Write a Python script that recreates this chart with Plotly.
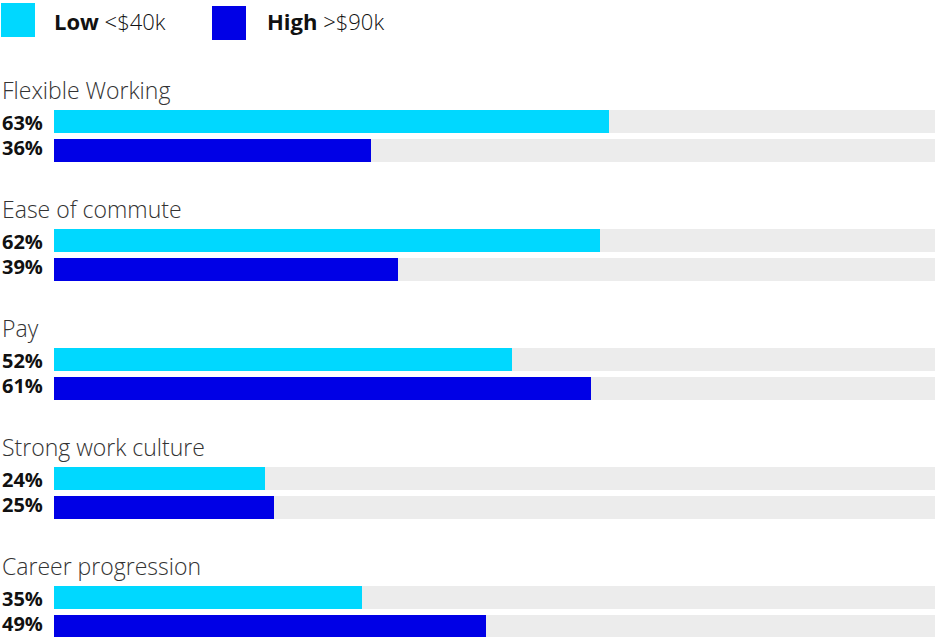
import plotly.graph_objects as go

categories = ["Flexible Working", "Ease of commute", "Pay", "Strong work culture", "Career progression"]
low = [63, 62, 52, 24, 35]
high = [36, 39, 61, 25, 49]
track = [100, 100, 100, 100, 100]
legend_bold = ["Low", "High"]
legend_rest = ["&lt;$40k", "&gt;$90k"]

CYAN = "#00d8ff"
BLUE = "#0000e6"
TRACK = "#ececec"
W, H = 935, 637
LEFT = 54

group_pitch = 119
first = 121.5
offset = 29
bar_h = 23.5
y_low = [first + i * group_pitch for i in range(len(categories))]
y_high = [y + offset for y in y_low]
y_title = [y - 31.5 for y in y_low]

xmin = -LEFT / (W - LEFT) * 100

fig = go.Figure()
for ys in (y_low, y_high):
    fig.add_trace(go.Bar(y=ys, x=track, orientation="h", width=bar_h,
                         marker=dict(color=TRACK, line=dict(width=0)),
                         hoverinfo="skip", showlegend=False))
fig.add_trace(go.Bar(y=y_low, x=low, orientation="h", width=bar_h, name="Low <$40k",
                     marker=dict(color=CYAN, line=dict(width=0)), showlegend=False))
fig.add_trace(go.Bar(y=y_high, x=high, orientation="h", width=bar_h, name="High >$90k",
                     marker=dict(color=BLUE, line=dict(width=0)), showlegend=False))

ann = []
label_font = dict(family="Open Sans", size=20, color="#111111", weight=700)
title_font = dict(family="Open Sans", size=23, color="#333333", weight=300)
for i, c in enumerate(categories):
    ann.append(dict(text=c, xref="paper", x=0, xanchor="left", yref="y", y=y_title[i],
                    yanchor="middle", showarrow=False, font=title_font))
    ann.append(dict(text=f"{low[i]}%", xref="paper", x=0, xanchor="left", yref="y", y=y_low[i],
                    yanchor="middle", showarrow=False, font=label_font,
                    valign="middle", yshift=-1))
    ann.append(dict(text=f"{high[i]}%", xref="paper", x=0, xanchor="left", yref="y", y=y_high[i],
                    yanchor="middle", showarrow=False, font=label_font,
                    valign="middle", yshift=3))

legend_sq_x = [1, 212]
legend_sq_y = [3, 6]
legend_txt_x = [52, 265]
legend_colors = [CYAN, BLUE]
shapes = []
for k in range(2):
    shapes.append(dict(type="rect", xref="paper", yref="y",
                       x0=legend_sq_x[k] / W, x1=(legend_sq_x[k] + 34) / W,
                       y0=legend_sq_y[k], y1=legend_sq_y[k] + 34,
                       fillcolor=legend_colors[k], line=dict(width=0)))
    ann.append(dict(text=f"<b>{legend_bold[k]}</b> <span style='font-weight:300'>{legend_rest[k]}</span>",
                    xref="paper", x=legend_txt_x[k] / W, xanchor="left", yref="y", y=21,
                    yanchor="middle", showarrow=False,
                    font=dict(family="Open Sans", size=22, color="#111111")))

fig.update_layout(
    width=W, height=H, margin=dict(l=0, r=0, t=0, b=0),
    paper_bgcolor="white", plot_bgcolor="white",
    barmode="overlay", bargap=0,
    xaxis=dict(range=[xmin, 100], visible=False, fixedrange=True),
    yaxis=dict(range=[H, 0], visible=False, fixedrange=True),
    annotations=ann, shapes=shapes, showlegend=False,
)
fig.write_html("out.html")
